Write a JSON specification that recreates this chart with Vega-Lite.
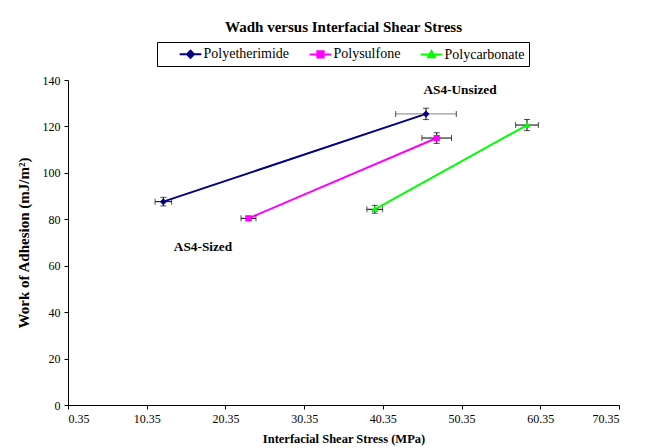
{
  "$schema": "https://vega.github.io/schema/vega-lite/v6.json",
  "width": 551,
  "height": 325,
  "autosize": {"type": "none"},
  "padding": {"left": 68, "top": 80, "right": 35, "bottom": 43},
  "background": "white",
  "config": {
    "view": {"stroke": null},
    "font": "Liberation Serif",
    "axis": {
      "grid": false,
      "domainColor": "black",
      "tickColor": "black",
      "labelColor": "black",
      "titleColor": "black",
      "labelFont": "Liberation Serif",
      "titleFont": "Liberation Serif",
      "labelFontSize": 12,
      "titleFontWeight": "bold",
      "tickSize": 4
    }
  },
  "title": {
    "text": "Wadh versus Interfacial Shear Stress",
    "font": "Liberation Serif",
    "fontSize": 15,
    "fontWeight": "bold",
    "color": "black",
    "anchor": "middle",
    "offset": 7
  },
  "data": {
    "values": [
      {"series": "Polyetherimide", "ifss": 12.46, "wadh": 87.6, "ifss_lo": 11.41, "ifss_hi": 13.51, "wadh_lo": 85.75, "wadh_hi": 89.45},
      {"series": "Polyetherimide", "ifss": 45.83, "wadh": 125.4, "ifss_lo": 41.98, "ifss_hi": 49.68, "wadh_lo": 122.95, "wadh_hi": 127.85},
      {"series": "Polysulfone", "ifss": 23.28, "wadh": 80.4, "ifss_lo": 22.33, "ifss_hi": 24.23, "wadh_lo": 79.5, "wadh_hi": 81.3},
      {"series": "Polysulfone", "ifss": 47.19, "wadh": 115.0, "ifss_lo": 45.31, "ifss_hi": 49.07, "wadh_lo": 112.7, "wadh_hi": 117.3},
      {"series": "Polycarbonate", "ifss": 39.32, "wadh": 84.3, "ifss_lo": 38.32, "ifss_hi": 40.32, "wadh_lo": 82.6, "wadh_hi": 86.0},
      {"series": "Polycarbonate", "ifss": 58.66, "wadh": 120.6, "ifss_lo": 57.22, "ifss_hi": 60.1, "wadh_lo": 118.2, "wadh_hi": 123.0}
    ]
  },
  "layer": [
    {
      "mark": {"type": "line", "strokeWidth": 2},
      "encoding": {
        "x": {
          "field": "ifss",
          "type": "quantitative",
          "scale": {"domain": [0.35, 70.35], "nice": false, "zero": false},
          "axis": {
            "title": "Interfacial Shear Stress (MPa)",
            "titleFontSize": 12.5,
            "values": [0.35, 10.35, 20.35, 30.35, 40.35, 50.35, 60.35, 70.35],
            "format": ".2f",
            "labelPadding": 4,
            "titlePadding": 8
          }
        },
        "y": {
          "field": "wadh",
          "type": "quantitative",
          "scale": {"domain": [0, 140], "nice": false},
          "axis": {
            "title": "Work of Adhesion (mJ/m²)",
            "titleFontSize": 15,
            "values": [0, 20, 40, 60, 80, 100, 120, 140],
            "labelPadding": 4,
            "titlePadding": 11
          }
        },
        "color": {
          "field": "series",
          "type": "nominal",
          "sort": ["Polyetherimide", "Polysulfone", "Polycarbonate"],
          "scale": {
            "domain": ["Polyetherimide", "Polysulfone", "Polycarbonate"],
            "range": ["#000080", "#FF00FF", "#00FF00"]
          },
          "legend": {
            "orient": "none",
            "legendX": 89,
            "legendY": -38,
            "direction": "horizontal",
            "title": null,
            "strokeColor": "black",
            "padding": 4,
            "labelFont": "Liberation Serif",
            "labelFontSize": 14,
            "labelColor": "black",
            "symbolSize": 196,
            "symbolOffset": 21.5,
            "labelOffset": 5,
            "columnPadding": 1,
            "symbolOpacity": 1,
            "encode": {
              "symbols": {
                "update": {
                  "stroke": {"signal": "scale('color', datum.value)"},
                  "strokeWidth": {"value": 2}
                }
              }
            }
          }
        }
      }
    },
    {
      "mark": {"type": "rule", "strokeWidth": 1},
      "encoding": {
        "x": {"field": "ifss_lo", "type": "quantitative"},
        "x2": {"field": "ifss_hi"},
        "y": {"field": "wadh", "type": "quantitative"},
        "color": {"condition": {"test": "datum.ifss_hi - datum.ifss_lo > 6", "value": "#808080"}, "value": "black"}
      }
    },
    {
      "mark": {"type": "tick", "orient": "vertical", "thickness": 1, "size": 6},
      "encoding": {
        "x": {"field": "ifss_lo", "type": "quantitative"},
        "y": {"field": "wadh", "type": "quantitative"},
        "color": {"value": "black"}
      }
    },
    {
      "mark": {"type": "tick", "orient": "vertical", "thickness": 1, "size": 6},
      "encoding": {
        "x": {"field": "ifss_hi", "type": "quantitative"},
        "y": {"field": "wadh", "type": "quantitative"},
        "color": {"value": "black"}
      }
    },
    {
      "mark": {"type": "rule", "strokeWidth": 1},
      "encoding": {
        "x": {"field": "ifss", "type": "quantitative"},
        "y": {"field": "wadh_lo", "type": "quantitative"},
        "y2": {"field": "wadh_hi"},
        "color": {"value": "black"}
      }
    },
    {
      "mark": {"type": "tick", "orient": "horizontal", "thickness": 1, "size": 6},
      "encoding": {
        "x": {"field": "ifss", "type": "quantitative"},
        "y": {"field": "wadh_lo", "type": "quantitative"},
        "color": {"value": "black"}
      }
    },
    {
      "mark": {"type": "tick", "orient": "horizontal", "thickness": 1, "size": 6},
      "encoding": {
        "x": {"field": "ifss", "type": "quantitative"},
        "y": {"field": "wadh_hi", "type": "quantitative"},
        "color": {"value": "black"}
      }
    },
    {
      "mark": {"type": "point", "filled": true, "opacity": 1, "size": 196},
      "encoding": {
        "x": {"field": "ifss", "type": "quantitative"},
        "y": {"field": "wadh", "type": "quantitative"},
        "color": {"field": "series", "type": "nominal"},
        "shape": {
          "field": "series",
          "type": "nominal",
          "scale": {
            "domain": ["Polyetherimide", "Polysulfone", "Polycarbonate"],
            "range": [
              "M-1.55,0H1.55M0,-0.5L0.5,0L0,0.5L-0.5,0Z",
              "M-1.55,0H1.55M-0.45,-0.45H0.45V0.45H-0.45Z",
              "M-1.55,0H1.55M0,-0.5L0.5,0.4L-0.5,0.4Z"
            ]
          }
        }
      }
    },
    {
      "data": {
        "values": [
          {"note": "AS4-Unsized", "ifss": 50.15, "wadh": 135.7},
          {"note": "AS4-Sized", "ifss": 17.5, "wadh": 68.1}
        ]
      },
      "mark": {"type": "text", "font": "Liberation Serif", "fontSize": 13.3, "fontWeight": "bold", "color": "black", "baseline": "middle", "align": "center"},
      "encoding": {
        "x": {"field": "ifss", "type": "quantitative"},
        "y": {"field": "wadh", "type": "quantitative"},
        "text": {"field": "note"}
      }
    }
  ]
}
